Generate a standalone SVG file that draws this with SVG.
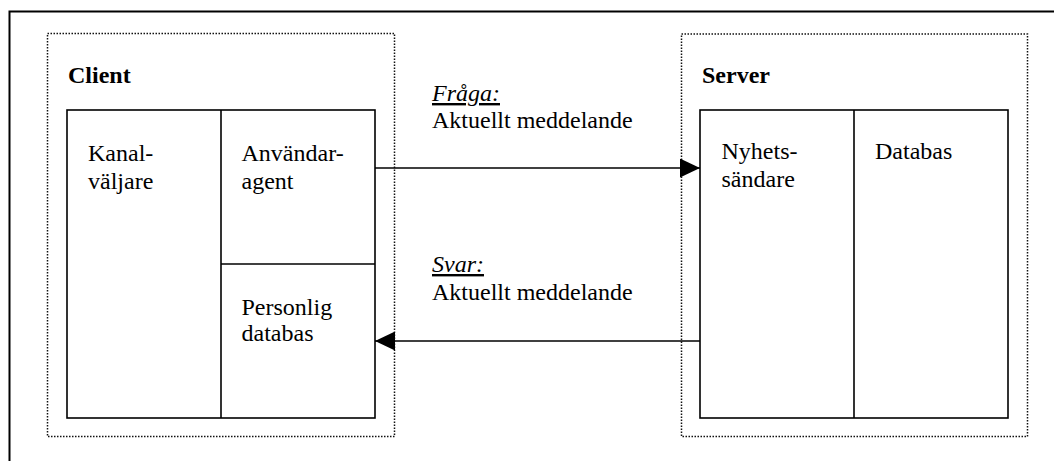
<svg xmlns="http://www.w3.org/2000/svg" width="1054" height="461" viewBox="0 0 1054 461">
  <style>
    .frame { fill: none; stroke: #000; stroke-width: 2; }
    .group { fill: none; stroke: #111; stroke-width: 1.5; stroke-dasharray: 1.5 1.5; }
    .box { fill: #fff; stroke: #000; stroke-width: 1.6; }
    .div { stroke: #000; stroke-width: 1.6; fill: none; }
    .link { stroke: #000; stroke-width: 1.6; fill: none; }
    text { font-family: "Liberation Serif", "Times New Roman", serif; font-size: 24px; fill: #000; }
    .title { font-weight: bold; }
    .tag { font-style: italic; text-decoration: underline; }
  </style>
  <defs>
    <marker id="head" viewBox="0 0 20 19" refX="20" refY="9.5" markerWidth="20" markerHeight="19" markerUnits="userSpaceOnUse" orient="auto">
      <path d="M0,0 L20,9.5 L0,19 Z" fill="#000"/>
    </marker>
  </defs>

  <!-- page frame (top and left edges) -->
  <path class="frame" d="M9.5,461 L9.5,11.5 L1054,11.5"/>

  <!-- client side -->
  <g id="client">
    <rect class="group" x="47.5" y="33.5" width="347" height="403"/>
    <text class="title" x="68" y="83">Client</text>
    <rect class="box" x="67" y="110" width="308" height="308"/>
    <line class="div" x1="221" y1="110" x2="221" y2="418"/>
    <line class="div" x1="221" y1="264" x2="375" y2="264"/>
  </g>
  <g id="kanalvaljare">
    <text x="88" y="161">Kanal-</text>
    <text x="88" y="189">väljare</text>
  </g>
  <g id="anvandaragent">
    <text x="241.5" y="161">Användar-</text>
    <text x="241.5" y="189">agent</text>
  </g>
  <g id="personlig-databas">
    <text x="241.5" y="315">Personlig</text>
    <text x="241.5" y="341">databas</text>
  </g>

  <!-- server side -->
  <g id="server">
    <rect class="group" x="681.5" y="34" width="346" height="402.5"/>
    <text class="title" x="702" y="83">Server</text>
    <rect class="box" x="700" y="110" width="308" height="308"/>
    <line class="div" x1="854" y1="110" x2="854" y2="418"/>
  </g>
  <g id="nyhetssandare">
    <text x="721.5" y="159">Nyhets-</text>
    <text x="721.5" y="187">sändare</text>
  </g>
  <g id="databas">
    <text x="875" y="159">Databas</text>
  </g>

  <!-- messages between client and server -->
  <g id="connectors">
    <line class="link" x1="375" y1="168" x2="700" y2="168" marker-end="url(#head)"/>
    <line class="link" x1="700" y1="341" x2="375" y2="341" marker-end="url(#head)"/>
  </g>
  <g id="fraga-label">
    <text class="tag" x="432" y="101">Fråga:</text>
    <text x="432" y="128">Aktuellt meddelande</text>
  </g>
  <g id="svar-label">
    <text class="tag" x="432" y="272">Svar:</text>
    <text x="432" y="300">Aktuellt meddelande</text>
  </g>
</svg>
